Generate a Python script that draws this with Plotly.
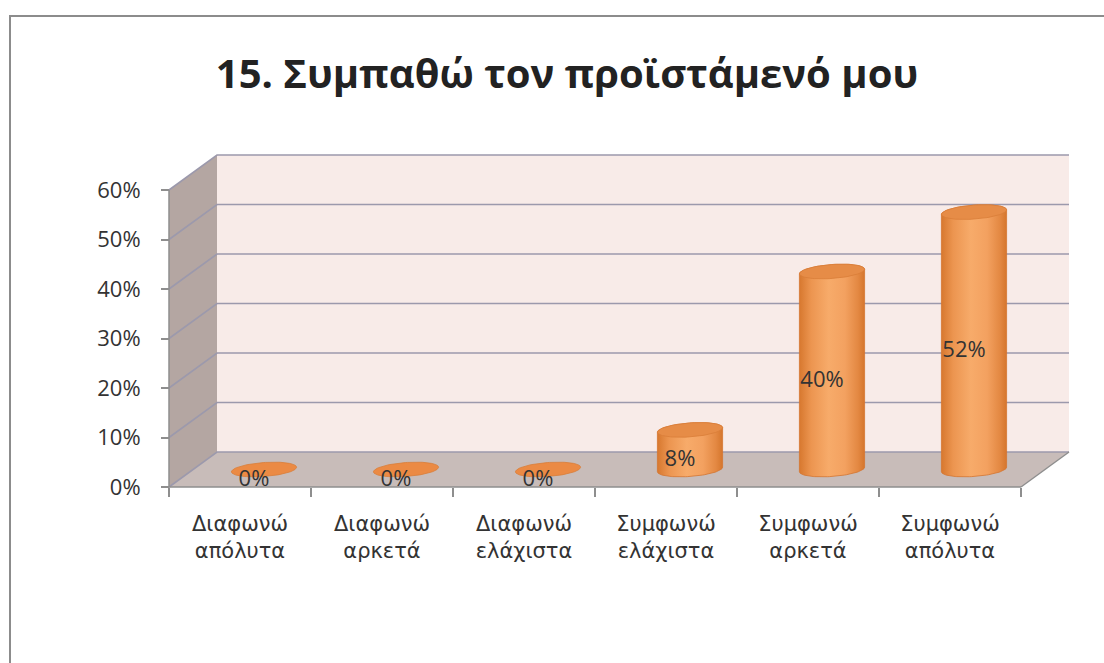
import numpy as np
import plotly.graph_objects as go

# ---- data -------------------------------------------------------------
title_text = "15. Συμπαθώ τον προϊστάμενό μου"
categories = [
    "Διαφωνώ<br>απόλυτα",
    "Διαφωνώ<br>αρκετά",
    "Διαφωνώ<br>ελάχιστα",
    "Συμφωνώ<br>ελάχιστα",
    "Συμφωνώ<br>αρκετά",
    "Συμφωνώ<br>απόλυτα",
]
values = [0, 0, 0, 8, 40, 52]          # percent
y_ticks = [0, 10, 20, 30, 40, 50, 60]  # percent

# ---- canvas / pseudo-3D geometry --------------------------------------
W, H = 1104, 663
PX0, PX_PER = 169, 142.0      # pixel of the front-left corner, px per category
PY0, PY_PER = 487, 4.95       # pixel of the 0% line, px per percent
DEPTH_X = 48 / PX_PER         # oblique depth offset in axis units
DEPTH_Y = 35 / PY_PER
RX = 31 / PX_PER              # cylinder half width
DEPTH_FRAC = 0.21             # cylinder depth radius relative to the floor depth

n = len(categories)
x_lo, x_hi = -0.5, n - 0.5
y_top = max(y_ticks)

SIDE = "#b4a6a2"
BACK = "#f8ebe8"
FLOOR = "#c8bcb9"
GRID = "#9c99ac"
AXIS = "#8e8e8e"
TEXT = "#333333"

fig = go.Figure()


def poly(xs, ys, fill, line_color=None, width=0):
    fig.add_trace(go.Scatter(
        x=xs, y=ys, mode="lines", fill="toself", fillcolor=fill,
        line=dict(color=line_color or fill, width=width),
        hoverinfo="skip", showlegend=False))


def line(xs, ys, color, width):
    fig.add_trace(go.Scatter(
        x=xs, y=ys, mode="lines", line=dict(color=color, width=width),
        hoverinfo="skip", showlegend=False))


# walls and floor
poly([x_lo, x_lo + DEPTH_X, x_lo + DEPTH_X, x_lo, x_lo],
     [0, DEPTH_Y, y_top + DEPTH_Y, y_top, 0], SIDE)
poly([x_lo + DEPTH_X, x_hi + DEPTH_X, x_hi + DEPTH_X, x_lo + DEPTH_X, x_lo + DEPTH_X],
     [DEPTH_Y, DEPTH_Y, y_top + DEPTH_Y, y_top + DEPTH_Y, DEPTH_Y], BACK)
poly([x_lo, x_hi, x_hi + DEPTH_X, x_lo + DEPTH_X, x_lo],
     [0, 0, DEPTH_Y, DEPTH_Y, 0], FLOOR)

# gridlines: diagonal on the side wall, horizontal on the back wall
gx, gy = [], []
for v in y_ticks:
    gx += [x_lo, x_lo + DEPTH_X, x_hi + DEPTH_X, None]
    gy += [v, v + DEPTH_Y, v + DEPTH_Y, None]
line(gx, gy, GRID, 1.6)

# floor edge on the right and front axis lines
line([x_hi, x_hi + DEPTH_X], [0, DEPTH_Y], AXIS, 1.4)
line([x_lo, x_hi], [0, 0], AXIS, 1.5)
line([x_lo, x_lo], [0, y_top], AXIS, 1.5)

# cylinders
ax_ = DEPTH_FRAC * DEPTH_X
ay_ = DEPTH_FRAC * DEPTH_Y
t_star = np.arctan2(ax_, RX)


def ellipse(cx, cy, t):
    return cx + RX * np.cos(t) + ax_ * np.sin(t), cy + ay_ * np.sin(t)


body_scale = [[0.0, "#d7782f"], [0.18, "#ec9550"], [0.45, "#f7ab6a"],
              [0.7, "#f3a160"], [0.9, "#e38842"], [1.0, "#d5762d"]]

label_x, label_y, label_t = [], [], []
for i, v in enumerate(values):
    cx = i + DEPTH_X / 2
    base = DEPTH_Y / 2
    top = base + v
    if v > 0:
        t_back = np.linspace(t_star, t_star + np.pi, 60)
        t_front = np.linspace(t_star + np.pi, t_star + 2 * np.pi, 60)
        bx1, by1 = ellipse(cx, top, t_back)
        bx2, by2 = ellipse(cx, base, t_front)
        xs = np.concatenate([bx1, bx2, bx1[:1]])
        ys = np.concatenate([by1, by2, by1[:1]])
        fig.add_trace(go.Scatter(
            x=xs, y=ys, mode="lines", fill="toself",
            fillgradient=dict(type="horizontal", colorscale=body_scale),
            line=dict(color="#d47530", width=0.8),
            hoverinfo="skip", showlegend=False))
    tt = np.linspace(0, 2 * np.pi, 90)
    ex, ey = ellipse(cx, top, tt)
    poly(list(ex), list(ey), "#e68c47" if v > 0 else "#eb8a44",
         "#d97d38", 0.8)
    label_x.append(cx - 10 / PX_PER)
    label_y.append(base + v / 2 - 2.2)
    label_t.append(f"{v}%")

fig.add_trace(go.Scatter(
    x=label_x, y=label_y, text=label_t, mode="text",
    textfont=dict(family="Open Sans", size=22, color=TEXT),
    hoverinfo="skip", showlegend=False, cliponaxis=False))

# outer chart frame
fig.add_shape(type="rect", xref="paper", yref="paper",
              x0=10 / W, x1=1.02, y0=-0.02, y1=1 - 16 / H,
              line=dict(color="#8c8c8c", width=2), fillcolor="rgba(0,0,0,0)",
              layer="below")

fig.update_layout(
    width=W, height=H,
    margin=dict(l=0, r=0, t=0, b=0),
    paper_bgcolor="white", plot_bgcolor="white",
    title=dict(text=title_text, x=567 / W, xanchor="center",
               y=1 - 74 / H, yanchor="middle",
               font=dict(family="Open Sans", size=40, color="#222222", weight="bold")),
    xaxis=dict(
        range=[x_lo - PX0 / PX_PER, x_lo + (W - PX0) / PX_PER],
        tickmode="array", tickvals=list(range(n)), ticktext=categories,
        ticks="", showgrid=False, zeroline=False, showline=False,
        anchor="free", position=(H - PY0) / H, ticklabelstandoff=22,
        tickfont=dict(family="DejaVu Sans", size=21, color=TEXT),
        minor=dict(tickmode="array", tickvals=[i - 0.5 for i in range(n + 1)],
                   ticks="outside", ticklen=9, tickwidth=1.5, tickcolor=AXIS,
                   showgrid=False),
        fixedrange=True,
    ),
    yaxis=dict(
        range=[-(H - PY0) / PY_PER, PY0 / PY_PER],
        tickmode="array", tickvals=y_ticks, ticktext=[f"{v}%" for v in y_ticks],
        ticks="outside", ticklen=8, tickwidth=1.5, tickcolor=AXIS,
        showgrid=False, zeroline=False, showline=False,
        anchor="free", position=PX0 / W, ticklabelstandoff=16,
        tickfont=dict(family="Open Sans", size=22, color=TEXT),
        fixedrange=True,
    ),
)

fig.write_html("out.html")
